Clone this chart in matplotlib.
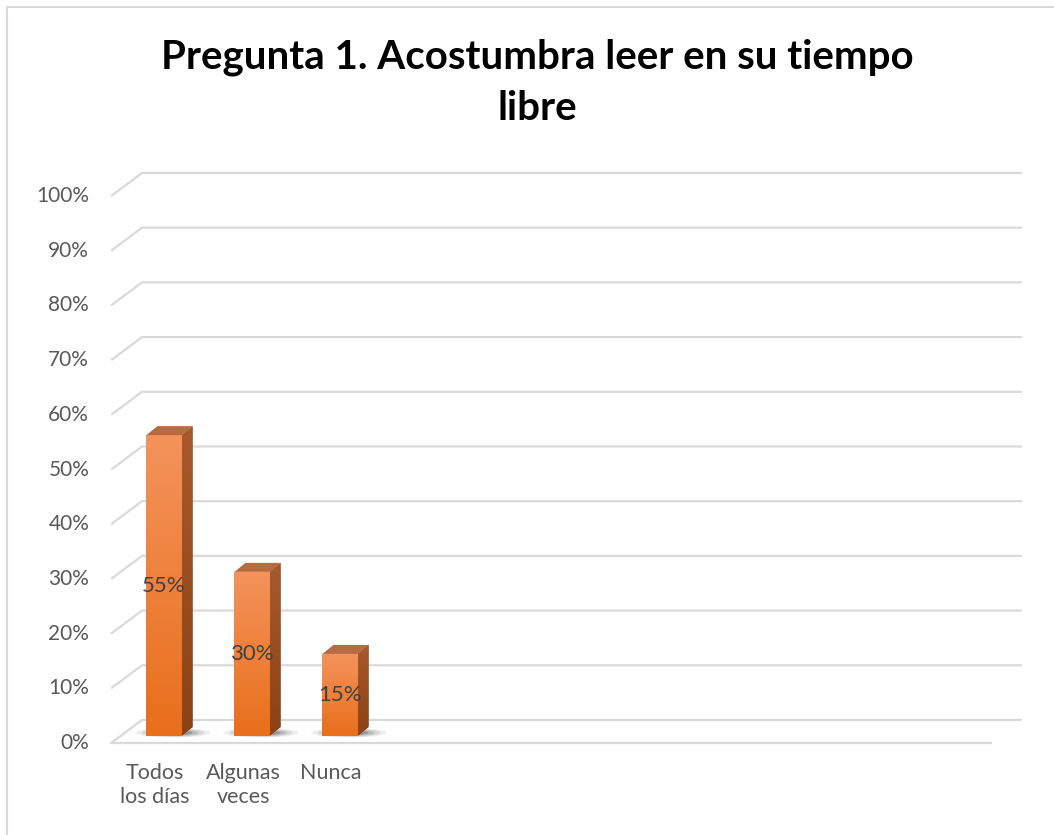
import numpy as np
import matplotlib.pyplot as plt
from matplotlib.patches import Polygon, Ellipse
from matplotlib.colors import LinearSegmentedColormap

plt.rcParams['font.family'] = ['Lato', 'DejaVu Sans']

TITLE = "Pregunta 1. Acostumbra leer en su tiempo\nlibre"
categories = ["Todos\nlos días", "Algunas\nveces", "Nunca"]
values = [55, 30, 15]
yticks = list(range(0, 101, 10))
N_SLOTS = 10

# depth geometry (data units: x in category slots, y in percent)
FX, FY = -0.10, -1.28      # front plane offset
BX, BY = 0.25, 2.93        # back wall offset
BAR_W = 0.40
DDX, DDY = 0.125, 1.65     # bar depth
GRID = '#d9d9d9'

front_cmap = LinearSegmentedColormap.from_list('f', ['#e86f1b', '#f4935c'])
side_cmap = LinearSegmentedColormap.from_list('s', ['#8c4213', '#a85a2c'])

fig = plt.figure(figsize=(10.54, 8.35), dpi=100)
ax = fig.add_axes([120 / 1054, 99 / 835, 880 / 1054, 547 / 835])
ax.axis('off')

# gridlines with perspective
for k in yticks:
    ax.plot([FX, BX, N_SLOTS + BX], [k + FY, k + BY, k + BY],
            color=GRID, lw=1.6, clip_on=False, zorder=1, solid_capstyle='butt')
    ax.text(FX - 0.25, k + FY, f"{k}%", ha='right', va='center',
            fontsize=15, color='#595959')
# floor front edge
ax.plot([FX, N_SLOTS + FX], [FY, FY], color=GRID, lw=1.6, clip_on=False, zorder=1)

xs = np.arange(len(values)) + 0.5
bars = ax.bar(xs, values, width=BAR_W, color='#ef7f2f', zorder=4, clip_on=False)

grad = np.linspace(0, 1, 256).reshape(-1, 1)
for b, v, xc in zip(bars, values, xs):
    x0 = b.get_x()
    x1 = x0 + b.get_width()
    # base shadow
    for i, a in enumerate([0.08, 0.12, 0.18, 0.25, 0.3]):
        s = 1 - i * 0.16
        ax.add_patch(Ellipse((xc + 0.1, 0.6), 0.85 * s, 1.8 * s,
                             color='#303030', alpha=a, lw=0, zorder=2, clip_on=False))
    # front face gradient
    im = ax.imshow(grad, extent=(x0, x1, 0, v), origin='lower', aspect='auto',
                   cmap=front_cmap, zorder=5)
    im.set_clip_path(b)
    # side face
    side = Polygon([(x1, 0), (x1, v), (x1 + DDX, v + DDY), (x1 + DDX, DDY)],
                   closed=True, zorder=4, clip_on=False, lw=0)
    ax.add_patch(side)
    im2 = ax.imshow(grad, extent=(x1, x1 + DDX, 0, v + DDY), origin='lower',
                    aspect='auto', zorder=4, cmap=side_cmap)
    im2.set_clip_path(side)
    # top face
    ax.add_patch(Polygon([(x0, v), (x1, v), (x1 + DDX, v + DDY), (x0 + DDX, v + DDY)],
                         closed=True, color='#b96a3f', lw=0, zorder=5, clip_on=False))
    ax.text(xc, v / 2, f"{v}%", ha='center', va='center', fontsize=16,
            color='#404040', zorder=6)

ax.set_xlim(0, N_SLOTS)
ax.set_ylim(0, 100)

for xc, lab in zip(xs, categories):
    ax.text(xc + FX, -5.0, lab, ha='center', va='top', fontsize=15.5,
            color='#595959', linespacing=1.2)

fig.text(0.51, 1 - 83 / 835, TITLE, ha='center', va='center', fontsize=29,
         fontweight='bold', color='black', linespacing=1.45)

# chart border
fig.add_artist(plt.Line2D([7 / 1054, 1], [1 - 7 / 835, 1 - 7 / 835],
                          color='#d9d9d9', lw=1.5))
fig.add_artist(plt.Line2D([7 / 1054, 7 / 1054], [0, 1 - 7 / 835],
                          color='#d9d9d9', lw=1.5))

fig.savefig('out.png', dpi=100)
